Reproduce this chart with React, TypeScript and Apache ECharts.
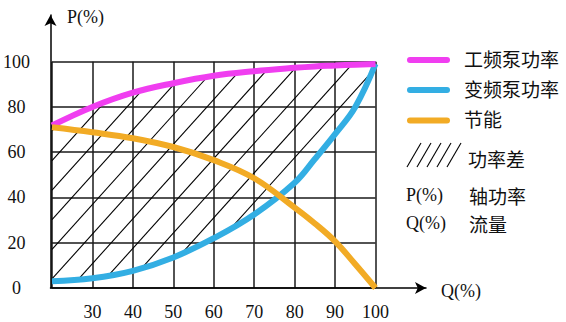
import React, { useEffect, useRef } from "react";
import * as echarts from "echarts";

// Flow Q (%) sample points
const Q = [20, 30, 40, 50, 60, 70, 80, 85, 90, 95, 100];
// 工频泵功率 (fixed-speed pump power, %)
const fixedPower = [71.8, 80, 86.3, 90.5, 93.8, 95.8, 97.3, 97.9, 98.3, 98.7, 99];
// 变频泵功率 (variable-speed pump power, %)
const variablePower = [3, 4.3, 7.6, 13.5, 22, 32.5, 46.5, 57, 68, 80, 99];
// 节能 (energy saving, %)
const saving = [71, 68.8, 66.2, 62.3, 56.5, 48.5, 35.5, 28.5, 20.6, 10.5, 0];

const seriesNames = ["工频泵功率", "变频泵功率", "节能"];
const seriesColors = ["#F03EF0", "#33AEE3", "#F2AB25"];
const hatchLabel = "功率差";
const notes = [
  ["P(%)", "轴功率"],
  ["Q(%)", "流量"],
];
const xName = "Q(%)";
const yName = "P(%)";

const SERIF = "'Liberation Serif', 'DejaVu Serif', serif";
const CJK = "'Noto Sans CJK SC', sans-serif";

function interpY(pts: number[][], x: number): number {
  for (let i = 0; i < pts.length - 1; i++) {
    const a = pts[i];
    const b = pts[i + 1];
    if (x >= a[0] && x <= b[0]) {
      const t = b[0] === a[0] ? 0 : (x - a[0]) / (b[0] - a[0]);
      return a[1] + t * (b[1] - a[1]);
    }
  }
  return pts[pts.length - 1][1];
}

export default function App() {
  const ref = useRef<HTMLDivElement>(null);

  useEffect(() => {
    if (!ref.current) return;
    const chart = echarts.init(ref.current, undefined, { renderer: "svg" });

    const pairs = (vals: number[]) => Q.map((q, i) => [q, vals[i]]);

    // hatch between the two power curves, drawn from the data through the axes
    const renderHatch = (params: any, api: any) => {
      const upper = Q.map((q, i) => api.coord([q, fixedPower[i]]));
      const lower = Q.map((q, i) => api.coord([q, variablePower[i]]));
      const x0 = upper[0][0];
      const x1 = upper[upper.length - 1][0];
      const k = 1.11; // slope in pixels (up-right)
      const gap = 29.6; // vertical offset between hatch lines
      const anchor = api.coord([21.85, 60]);
      const cRef = anchor[1] + k * anchor[0];
      const cMin = Math.min(...upper.map((p: number[]) => p[1] + k * p[0]));
      const cMax = Math.max(...lower.map((p: number[]) => p[1] + k * p[0]));
      const startN = Math.floor((cMin - cRef) / gap);
      const endN = Math.ceil((cMax - cRef) / gap);
      const children: any[] = [];
      const step = 0.25;
      for (let n = startN; n <= endN; n++) {
        const c = cRef + n * gap;
        let runStart: number | null = null;
        let prevX = x0;
        for (let x = x0; x <= x1 + 1e-6; x += step) {
          const y = c - k * x;
          const inside = y >= interpY(upper, x) && y <= interpY(lower, x);
          if (inside && runStart === null) runStart = x;
          if (!inside && runStart !== null) {
            children.push({
              type: "line",
              shape: { x1: runStart, y1: c - k * runStart, x2: prevX, y2: c - k * prevX },
              style: { stroke: "#000", lineWidth: 1.1 },
            });
            runStart = null;
          }
          prevX = x;
        }
        if (runStart !== null) {
          children.push({
            type: "line",
            shape: { x1: runStart, y1: c - k * runStart, x2: prevX, y2: c - k * prevX },
            style: { stroke: "#000", lineWidth: 1.1 },
          });
        }
      }
      return { type: "group", children };
    };

    const legendGraphics: any[] = [];
    const legendY = [60, 90, 120.5];
    seriesNames.forEach((n, i) => {
      legendGraphics.push({
        type: "line",
        shape: { x1: 410, y1: legendY[i], x2: 447, y2: legendY[i] },
        style: { stroke: seriesColors[i], lineWidth: 6, lineCap: "round" },
      });
      legendGraphics.push({
        type: "text",
        x: 464,
        y: legendY[i] - 2,
        style: {
          text: n,
          font: `19px ${CJK}`,
          fill: "#111",
          textVerticalAlign: "middle",
        },
      });
    });
    for (let k = 0; k < 5; k++) {
      legendGraphics.push({
        type: "line",
        shape: { x1: 407 + k * 10, y1: 167, x2: 421 + k * 10, y2: 143 },
        style: { stroke: "#000", lineWidth: 1.1 },
      });
    }
    legendGraphics.push({
      type: "text",
      x: 468,
      y: 158,
      style: { text: hatchLabel, font: `19px ${CJK}`, fill: "#111", textVerticalAlign: "middle" },
    });
    const noteY = [195, 223];
    notes.forEach((n, i) => {
      legendGraphics.push({
        type: "text",
        x: 406,
        y: noteY[i],
        style: { text: n[0], font: `18px ${SERIF}`, fill: "#111", textVerticalAlign: "middle" },
      });
      legendGraphics.push({
        type: "text",
        x: 469,
        y: noteY[i],
        style: { text: n[1], font: `19px ${CJK}`, fill: "#111", textVerticalAlign: "middle" },
      });
    });
    legendGraphics.push({
      type: "text",
      x: 67,
      y: 17,
      style: { text: yName, font: `18px ${SERIF}`, fill: "#111", textVerticalAlign: "middle" },
    });
    legendGraphics.push({
      type: "text",
      x: 441,
      y: 291,
      style: { text: xName, font: `18px ${SERIF}`, fill: "#111", textVerticalAlign: "middle" },
    });

    const gridLine = { show: true, lineStyle: { color: "#1a1a1a", width: 1.5 } };

    chart.setOption({
      animation: false,
      backgroundColor: "#fff",
      grid: [
        { left: 50.5, right: 190.5, top: 61.7, bottom: 34 },
        { left: 50.5, right: 140, top: 15, bottom: 34 },
      ],
      xAxis: [
        {
          type: "value",
          gridIndex: 0,
          min: 20,
          max: 100,
          interval: 10,
          axisLine: { show: false },
          axisTick: { show: false },
          splitLine: gridLine,
          axisLabel: {
            showMinLabel: false,
            margin: 24,
            verticalAlign: "middle",
            fontFamily: SERIF,
            fontSize: 18,
            color: "#111",
          },
        },
        {
          type: "value",
          gridIndex: 1,
          min: 0,
          max: 1,
          axisLabel: { show: false },
          axisTick: { show: false },
          splitLine: { show: false },
          axisLine: {
            show: true,
            symbol: ["none", "arrow"],
            symbolSize: [9, 11],
            lineStyle: { color: "#000", width: 1.5 },
          },
        },
      ],
      yAxis: [
        {
          type: "value",
          gridIndex: 0,
          min: 0,
          max: 100,
          interval: 20,
          axisLine: { show: false },
          axisTick: { show: false },
          splitLine: gridLine,
          axisLabel: {
            align: "center",
            margin: 35.5,
            fontFamily: SERIF,
            fontSize: 18,
            color: "#111",
          },
        },
        {
          type: "value",
          gridIndex: 1,
          min: 0,
          max: 1,
          axisLabel: { show: false },
          axisTick: { show: false },
          splitLine: { show: false },
          axisLine: {
            show: true,
            symbol: ["none", "arrow"],
            symbolSize: [9, 11],
            lineStyle: { color: "#000", width: 1.5 },
          },
        },
      ],
      series: [
        {
          name: hatchLabel,
          type: "custom",
          xAxisIndex: 0,
          yAxisIndex: 0,
          data: [[Q[0], fixedPower[0]]],
          renderItem: renderHatch,
          z: 1,
          silent: true,
        },
        {
          name: seriesNames[1],
          type: "line",
          data: pairs(variablePower),
          smooth: 0.4,
          showSymbol: false,
          z: 5,
          lineStyle: { color: seriesColors[1], width: 6 },
          itemStyle: { color: seriesColors[1] },
        },
        {
          name: seriesNames[0],
          type: "line",
          data: pairs(fixedPower),
          smooth: 0.4,
          showSymbol: false,
          z: 5,
          lineStyle: { color: seriesColors[0], width: 6 },
          itemStyle: { color: seriesColors[0] },
        },
        {
          name: seriesNames[2],
          type: "line",
          data: pairs(saving),
          smooth: 0.4,
          showSymbol: false,
          z: 5,
          lineStyle: { color: seriesColors[2], width: 6 },
          itemStyle: { color: seriesColors[2] },
        },
      ],
      graphic: legendGraphics,
    });

    return () => chart.dispose();
  }, []);

  return (
    <div
      ref={ref}
      style={{ position: "fixed", left: 0, top: 0, width: 566, height: 322 }}
    />
  );
}
